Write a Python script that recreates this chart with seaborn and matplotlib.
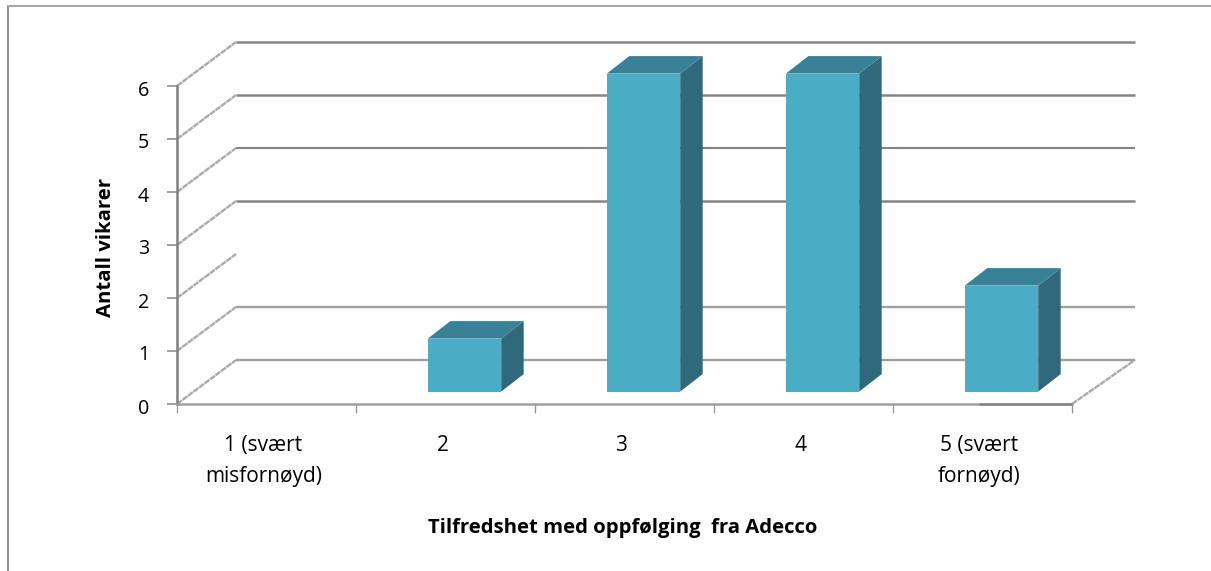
import matplotlib
matplotlib.use("Agg")
import matplotlib.pyplot as plt
from matplotlib.lines import Line2D
from matplotlib.patches import Polygon
from matplotlib.transforms import Affine2D
import seaborn as sns

sns.set_style("white")
plt.rcParams["font.family"] = ["Open Sans", "DejaVu Sans"]

# Survey results
categories = ["1 (svært\nmisfornøyd)", "2", "3", "4", "5 (svært\nfornøyd)"]
counts = [0, 1, 6, 6, 2]
y_ticks = [0, 1, 2, 3, 4, 5, 6]
x_title = "Tilfredshet med oppfølging  fra Adecco"
y_title = "Antall vikarer"

# Back-wall rules: level, colour, width in points
wall_levels = [0, 1, 3, 4, 5, 6]
wall_colors = ["#a0a0a0", "#a0a0a0", "#858585", "#858585", "#858585", "#858585"]
wall_widths = [1.7, 1.7, 1.8, 1.5, 1.8, 1.8]

FRONT, SIDE, TOP = "#4bacc6", "#30697c", "#388197"
W, H = 1211, 571
X0, X1, Y0, Y1 = 177, 1072, 404, 86
PX_X = 5 / (X1 - X0)      # categories per pixel
PX_Y = 6 / (Y0 - Y1)      # count units per pixel

fig = plt.figure(figsize=(W / 100, H / 100), dpi=100, facecolor="white")
ax = fig.add_axes([X0 / W, 1 - Y0 / H, (X1 - X0) / W, (Y0 - Y1) / H])
ax.patch.set_alpha(0)

sns.barplot(x=categories, y=counts, color=FRONT, saturation=1, width=0.41,
            linewidth=0, ax=ax, zorder=3)
ax.set_xlim(-0.5, 4.5)
ax.set_ylim(0, 6)

# Perspective shifts, in data units
wall_dx, wall_dy = 59 * PX_X, 44 * PX_Y
bar_dx, bar_dy = 19 * PX_X, 12.4 * PX_Y
depth_dx, depth_dy = 22.5 * PX_X, 17.5 * PX_Y

wall_shift = Affine2D().translate(wall_dx, wall_dy) + ax.transData
bar_shift = Affine2D().translate(bar_dx, bar_dy) + ax.transData

# Slanted side-wall rules, plus the one on the right edge of the floor
slant = dict(color="#aaaaaa", lw=1.7, linestyle=(0, (2.6, 0.3)), clip_on=False,
             zorder=1, dash_capstyle="butt")
for level in y_ticks:
    ax.plot([-0.5, -0.5 + wall_dx], [level, level + wall_dy], **slant)
ax.plot([4.5, 4.5 + wall_dx + 4 * PX_X], [0, wall_dy], **slant)

# Horizontal rules on the back wall
for level, colour, width in zip(wall_levels, wall_colors, wall_widths):
    ax.plot([-0.5, 4.5 + 4 * PX_X], [level, level], color=colour, lw=width,
            clip_on=False, transform=wall_shift, zorder=1, solid_capstyle="butt")

# Shift the front faces into the floor and add the side and top faces
for bar in ax.patches:
    bar.set_transform(bar_shift)
    bar.set_clip_on(False)
    h = bar.get_height()
    if h == 0:
        continue
    left, right = bar.get_x(), bar.get_x() + bar.get_width()
    side = [(right, 0), (right + depth_dx, depth_dy),
            (right + depth_dx, h + depth_dy), (right, h)]
    top = [(left, h), (left + depth_dx, h + depth_dy),
           (right + depth_dx, h + depth_dy), (right, h)]
    ax.add_patch(Polygon(side, closed=True, fc=SIDE, ec="none",
                         transform=bar_shift, clip_on=False, zorder=2))
    ax.add_patch(Polygon(top, closed=True, fc=TOP, ec="none",
                         transform=bar_shift, clip_on=False, zorder=2))

# Axes
sns.despine(ax=ax, top=True, right=True)
ax.spines["left"].set(color="#808080", linewidth=1.8)
ax.spines["bottom"].set(color="#a0a0a0", linewidth=1.8)
ax.plot([3.98, 4.5], [0, 0], color="#858585", lw=1.8, clip_on=False, zorder=4,
        solid_capstyle="butt")

ax.set_yticks(y_ticks)
ax.set_xticks(range(len(categories)))
ax.set_xticklabels(categories, linespacing=1.62)
ax.set_xticks([i - 0.5 for i in range(len(categories) + 1)], minor=True)
ax.tick_params(axis="x", which="major", bottom=False, pad=19, labelsize=15,
               labelcolor="black")
ax.tick_params(axis="x", which="minor", bottom=True, length=6.5, width=0.9,
               color="#969696")
ax.tick_params(axis="y", which="major", left=True, length=7, width=1.1, color="#858585",
               pad=13, labelsize=14.2, labelcolor="black")

# Nudge the tick labels to their place beside the ticks
for label in ax.get_xticklabels():
    label.set_transform(label.get_transform() + Affine2D().translate(-3, 0))
for label in ax.get_yticklabels():
    label.set_transform(label.get_transform() + Affine2D().translate(0, -2))

fig.text(623 / W, 1 - 528 / H, x_title, ha="center", va="center",
         fontsize=14.6, fontweight="bold", color="black")
fig.text(106 / W, 1 - 247 / H, y_title, ha="center", va="center",
         rotation=90, fontsize=14.6, fontweight="bold", color="black")
ax.set_xlabel("")
ax.set_ylabel("")

# Outer chart frame: only the top and left edges show
fig.add_artist(Line2D([8 / W, 8 / W], [0, 1 - 5.5 / H], color="#8a8a8a", lw=1.4))
fig.add_artist(Line2D([8 / W, 1], [1 - 5.5 / H, 1 - 5.5 / H], color="#a8a8a8", lw=1.4))

fig.savefig("out.png", dpi=100)
